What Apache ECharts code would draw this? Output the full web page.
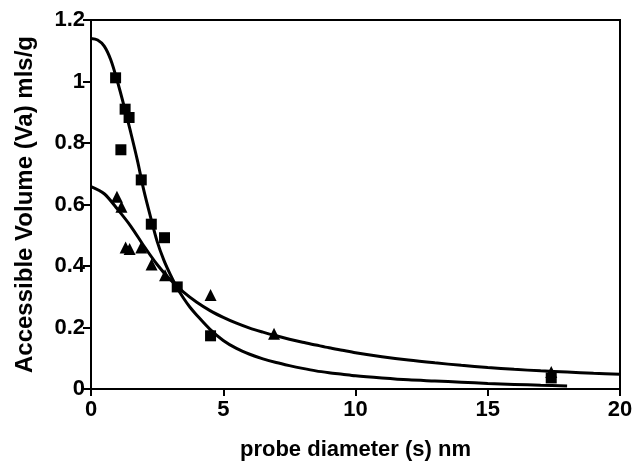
<!DOCTYPE html>
<html>
<head>
<meta charset="utf-8">
<script src="https://cdn.jsdelivr.net/npm/echarts@6/dist/echarts.min.js"></script>
<style>
  html, body { margin: 0; padding: 0; background: #fff; }
  #chart { width: 633px; height: 463px; }
</style>
</head>
<body>
<div id="chart"></div>
<script>
// measured points, [diameter nm, volume mls/g]
var squarePoints = [
  [0.93, 1.012], [1.13, 0.778], [1.29, 0.91], [1.44, 0.883], [1.9, 0.68],
  [2.28, 0.536], [2.78, 0.492], [3.26, 0.332], [4.52, 0.173], [17.4, 0.036]
]
var trianglePoints = [
  [0.98, 0.625], [1.15, 0.593], [1.31, 0.46], [1.46, 0.455], [1.9, 0.46],
  [2.29, 0.405], [2.8, 0.37], [4.52, 0.306], [6.92, 0.18], [17.4, 0.055]
]

// fitted curves
var squareCurveX = [0, 0.25, 0.5, 0.75, 1, 1.25, 1.5, 1.75, 2, 2.25, 2.5, 2.75, 3, 3.25, 3.5, 3.75, 4, 4.5, 5, 5.5, 6, 6.5, 7, 7.5, 8, 8.5, 9, 9.5, 10, 11, 12, 13, 14, 15, 16, 17, 18]
var squareCurveY = [1.14, 1.135, 1.115, 1.07, 1.0, 0.92, 0.835, 0.745, 0.645, 0.56, 0.48, 0.42, 0.372, 0.33, 0.295, 0.265, 0.24, 0.194, 0.158, 0.132, 0.113, 0.098, 0.086, 0.076, 0.067, 0.059, 0.053, 0.048, 0.043, 0.036, 0.03, 0.026, 0.022, 0.018, 0.015, 0.012, 0.01]
var triangleCurveX = [0, 0.5, 1, 1.5, 2, 2.5, 3, 3.5, 4, 4.5, 5, 5.5, 6, 6.5, 7, 7.5, 8, 8.5, 9, 9.5, 10, 11, 12, 13, 14, 15, 16, 17, 18, 19, 20]
var triangleCurveY = [0.658, 0.635, 0.585, 0.53, 0.465, 0.405, 0.355, 0.315, 0.282, 0.255, 0.233, 0.214, 0.198, 0.185, 0.173, 0.162, 0.152, 0.143, 0.134, 0.126, 0.118, 0.105, 0.094, 0.085, 0.077, 0.07, 0.064, 0.059, 0.055, 0.051, 0.048]

var xTicks = { min: 0, max: 20, interval: 5 }
var yTicks = { min: 0, max: 1.2, interval: 0.2 }

function pairs (xs, ys) {
  return xs.map(function (x, i) { return [x, ys[i]] })
}

var font = '"Liberation Sans", Arial, sans-serif'
var chart = echarts.init(document.getElementById('chart'))

chart.setOption({
  backgroundColor: '#fff',
  animation: false,
  grid: {
    left: 91, right: 13, top: 20, bottom: 74,
    outerBoundsMode: 'none',
    show: true, borderColor: '#000', borderWidth: 2, backgroundColor: 'transparent'
  },
  xAxis: {
    type: 'value',
    min: xTicks.min, max: xTicks.max, interval: xTicks.interval,
    name: 'probe diameter (s) nm',
    nameLocation: 'middle',
    nameGap: 50,
    nameTextStyle: { fontFamily: font, fontWeight: 'bold', fontSize: 22, color: '#000' },
    axisLine: { show: true, lineStyle: { color: '#000', width: 2 } },
    axisTick: { show: true, length: 7, lineStyle: { color: '#000', width: 2 } },
    axisLabel: { fontFamily: font, fontWeight: 'bold', fontSize: 22, color: '#000', margin: 10 },
    splitLine: { show: false }
  },
  yAxis: {
    type: 'value',
    min: yTicks.min, max: yTicks.max, interval: yTicks.interval,
    name: 'Accessible Volume (Va) mls/g',
    nameLocation: 'middle',
    nameGap: 54,
    nameTextStyle: { fontFamily: font, fontWeight: 'bold', fontSize: 24, color: '#000' },
    axisLine: { show: true, lineStyle: { color: '#000', width: 2 } },
    axisTick: { show: true, length: 8, lineStyle: { color: '#000', width: 2 } },
    axisLabel: { fontFamily: font, fontWeight: 'bold', fontSize: 22, color: '#000', margin: 6 },
    splitLine: { show: false }
  },
  series: [
    {
      type: 'line',
      data: pairs(squareCurveX, squareCurveY),
      smooth: 0.3,
      showSymbol: false,
      lineStyle: { color: '#000', width: 3 }
    },
    {
      type: 'line',
      data: pairs(triangleCurveX, triangleCurveY),
      smooth: 0.3,
      showSymbol: false,
      lineStyle: { color: '#000', width: 3 }
    },
    {
      type: 'scatter',
      data: squarePoints,
      symbol: 'rect',
      symbolSize: 11,
      itemStyle: { color: '#000', opacity: 1 }
    },
    {
      type: 'scatter',
      data: trianglePoints,
      symbol: 'triangle',
      symbolSize: 12,
      itemStyle: { color: '#000', opacity: 1 }
    }
  ]
})
</script>
</body>
</html>
